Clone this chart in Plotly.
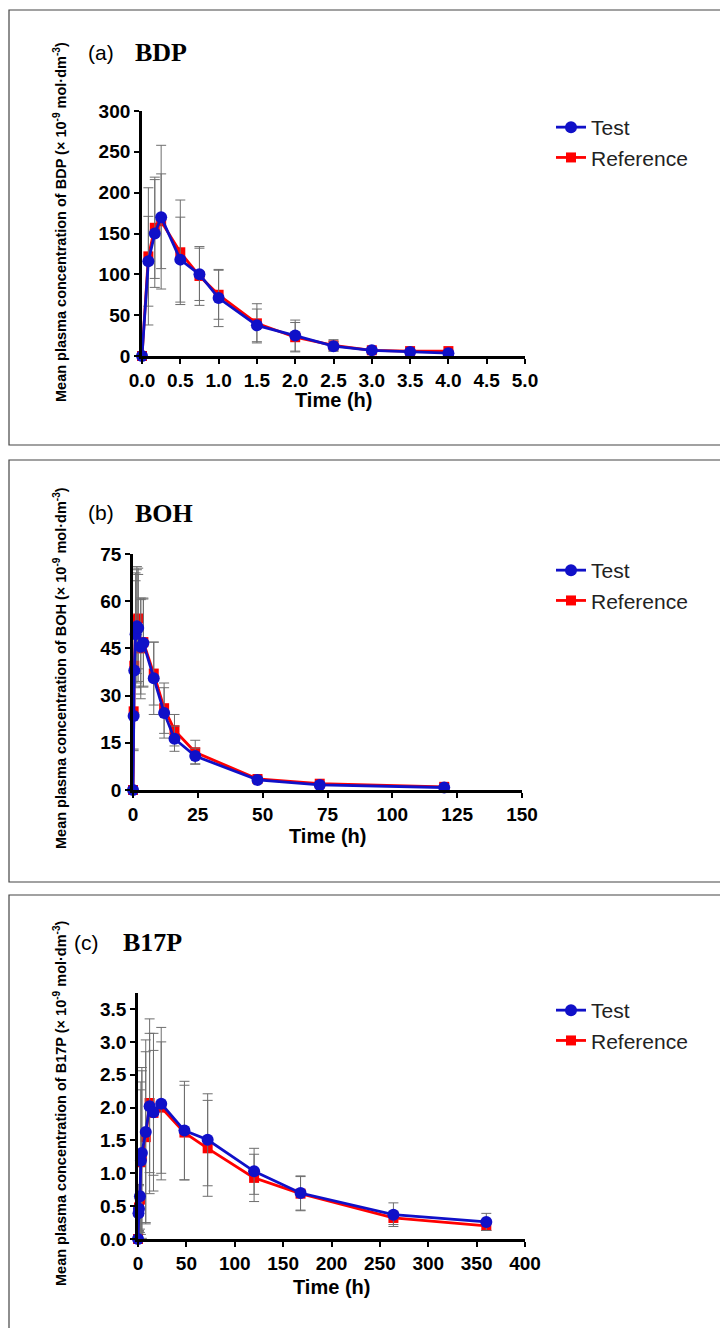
import plotly.graph_objects as go

W, H = 720, 1328

# ---------------- data ----------------
bdp_time = [0, 0.083, 0.167, 0.25, 0.5, 0.75, 1.0, 1.5, 2.0, 2.5, 3.0, 3.5, 4.0]
bdp_test = [0, 116, 150, 170, 118, 100, 71, 37.5, 25, 12, 7, 5, 3.5]
bdp_test_sd = [0, 55, 66, 88, 52, 32, 35, 20, 19, 6, 2, 1.5, 1]
bdp_ref = [0, 122, 157, 165, 127, 98, 75, 40, 23, 13, 7, 6, 6]
bdp_ref_sd = [0, 84, 62, 58, 64, 36, 30, 24, 18, 7, 2, 1.5, 1]

boh_time = [0, 0.25, 0.5, 1, 1.5, 2, 3, 4, 8, 12, 16, 24, 48, 72, 120]
boh_test = [0, 23.5, 38, 49.5, 52, 51.5, 45.5, 46.7, 35.5, 24.5, 16.3, 10.8, 3.2, 1.6, 0.8]
boh_test_sd = [0, 11, 14, 17, 18, 17, 15, 14, 11.5, 8, 4, 2.5, 0.8, 0.5, 0.3]
boh_ref = [0, 25, 39.5, 51, 54, 54.5, 45, 47, 37, 26, 19, 12, 3.5, 2.0, 1.0]
boh_ref_sd = [0, 12, 15, 18, 17, 16, 16, 14, 10, 8, 5, 3.8, 0.9, 0.6, 0.3]

b17p_time = [0, 0.5, 1, 2, 3, 4, 8, 12, 16, 24, 48, 72, 120, 168, 264, 360]
b17p_test = [0, 0.39, 0.46, 0.65, 1.19, 1.31, 1.63, 2.02, 1.93, 2.06, 1.65, 1.51, 1.03, 0.70, 0.37, 0.26]
b17p_test_sd = [0, 0.3, 0.35, 0.5, 1.2, 1.3, 1.4, 1.33, 1.2, 1.16, 0.75, 0.7, 0.35, 0.26, 0.18, 0.13]
b17p_ref = [0, 0.42, 0.48, 0.60, 1.17, 1.26, 1.55, 2.07, 1.92, 2.00, 1.62, 1.38, 0.93, 0.69, 0.32, 0.20]
b17p_ref_sd = [0, 0.3, 0.35, 0.5, 1.1, 1.3, 1.3, 1.06, 0.95, 1.0, 0.72, 0.73, 0.36, 0.26, 0.1, 0.07]

series_names = ["Test", "Reference"]
panel_tags = ["(a)", "(b)", "(c)"]
panel_names = ["BDP", "BOH", "B17P"]

BLUE = "#1010c8"
RED = "#ff0000"
ERR = "#6e6e6e"


def px_x(x):
    return x / W


def px_y(y):
    return 1 - y / H


fig = go.Figure()

panels = [
    dict(t=bdp_time, test=bdp_test, tsd=bdp_test_sd, ref=bdp_ref, rsd=bdp_ref_sd,
         xa="x", ya="y", leg="legend"),
    dict(t=boh_time, test=boh_test, tsd=boh_test_sd, ref=boh_ref, rsd=boh_ref_sd,
         xa="x2", ya="y2", leg="legend2"),
    dict(t=b17p_time, test=b17p_test, tsd=b17p_test_sd, ref=b17p_ref, rsd=b17p_ref_sd,
         xa="x3", ya="y3", leg="legend3"),
]

for p in panels:
    fig.add_trace(go.Scatter(
        x=p["t"], y=p["ref"], name=series_names[1], mode="lines+markers",
        line=dict(color=RED, width=2.8),
        marker=dict(symbol="square", size=10, color=RED),
        error_y=dict(type="data", array=p["rsd"], color=ERR, thickness=1, width=5),
        xaxis=p["xa"], yaxis=p["ya"], legend=p["leg"], legendrank=2, cliponaxis=False))
    fig.add_trace(go.Scatter(
        x=p["t"], y=p["test"], name=series_names[0], mode="lines+markers",
        line=dict(color=BLUE, width=2.8),
        marker=dict(symbol="circle", size=12, color=BLUE),
        error_y=dict(type="data", array=p["tsd"], color=ERR, thickness=1, width=5),
        xaxis=p["xa"], yaxis=p["ya"], legend=p["leg"], legendrank=1, cliponaxis=False))

tickfont = dict(family="Liberation Sans, Arial", size=19, color="black", weight="bold")
axis_common = dict(showgrid=False, zeroline=False, showline=True, linecolor="black",
                   linewidth=2.8, ticks="outside", ticklen=5, tickwidth=2.2,
                   tickcolor="black", tickfont=tickfont, automargin=False)

# geometry in pixels: (x0, x1, ybottom, ytop)
geo = [
    (142, 525, 356, 111),
    (133, 522, 790, 554),
    (138, 525, 1239, 992.6),
]

fig.update_layout(
    xaxis=dict(domain=[px_x(geo[0][0]), px_x(geo[0][1])], range=[0, 5], dtick=0.5,
               tickformat=".1f", anchor="y", **axis_common),
    yaxis=dict(domain=[px_y(geo[0][2]), px_y(geo[0][3])], range=[0, 300], dtick=50,
               anchor="x", **axis_common),
    xaxis2=dict(domain=[px_x(geo[1][0]), px_x(geo[1][1])], range=[0, 150], dtick=25,
                anchor="y2", **axis_common),
    yaxis2=dict(domain=[px_y(geo[1][2]), px_y(geo[1][3])], range=[0, 75], dtick=15,
                anchor="x2", **axis_common),
    xaxis3=dict(domain=[px_x(geo[2][0]), px_x(geo[2][1])], range=[0, 400], dtick=50,
                anchor="y3", **axis_common),
    yaxis3=dict(domain=[px_y(geo[2][2]), px_y(geo[2][3])], range=[0, 3.75],
                tickvals=[0, 0.5, 1, 1.5, 2, 2.5, 3, 3.5], tickformat=".1f",
                anchor="x3", **axis_common),
)

legfont = dict(family="Liberation Sans, Arial", size=21, color="#222")
leg_tops = [107, 550, 990]
for i, key in enumerate(["legend", "legend2", "legend3"]):
    fig.layout[key] = dict(x=px_x(551), y=px_y(leg_tops[i]), xanchor="left", yanchor="top",
                           font=legfont, bgcolor="rgba(0,0,0,0)", traceorder="normal")

annotations = []
shapes = []
label_y = [52, 512, 942]
tag_x = [86, 86, 72]
name_x = [133, 133, 121]
ytitle_cy = [222, 668, 1103]
xtitle_y = [400, 836, 1287]
frames = [(9, 10, 725, 445), (9, 460, 725, 882), (9, 895, 725, 1340)]
for i in range(3):
    annotations.append(dict(x=px_x(tag_x[i]), y=px_y(label_y[i]), xref="paper", yref="paper",
                            text=panel_tags[i], showarrow=False, xanchor="left", yanchor="middle",
                            font=dict(family="Liberation Sans, Arial", size=21, color="black")))
    annotations.append(dict(x=px_x(name_x[i]), y=px_y(label_y[i] + 1), xref="paper", yref="paper",
                            text=panel_names[i], showarrow=False, xanchor="left", yanchor="middle",
                            font=dict(family="Liberation Serif, Times New Roman", size=26,
                                      color="black", weight="bold")))
    annotations.append(dict(
        x=px_x(60), y=px_y(ytitle_cy[i]), xref="paper", yref="paper", textangle=-90,
        text="Mean plasma concentration of " + panel_names[i] +
             " (× 10<sup>-9</sup> mol·dm<sup>-3</sup>)",
        showarrow=False, xanchor="center", yanchor="middle",
        font=dict(family="Liberation Sans, Arial", size=14.5, color="black", weight="bold")))
    annotations.append(dict(x=px_x((geo[i][0] + geo[i][1]) / 2), y=px_y(xtitle_y[i]),
                            xref="paper", yref="paper", text="Time (h)", showarrow=False,
                            xanchor="center", yanchor="middle",
                            font=dict(family="Liberation Sans, Arial", size=20, color="black",
                                      weight="bold")))
    f = frames[i]
    shapes.append(dict(type="rect", xref="paper", yref="paper", x0=px_x(f[0]), x1=px_x(f[2]),
                       y0=px_y(f[3]), y1=px_y(f[1]), line=dict(color="#444", width=1.2),
                       fillcolor="rgba(0,0,0,0)", layer="below"))

fig.update_layout(width=W, height=H,
                  margin=dict(l=0, r=0, t=0, b=0, pad=0, autoexpand=False),
                  paper_bgcolor="white", plot_bgcolor="white",
                  annotations=annotations, shapes=shapes)

fig.write_html("out.html", config={"displayModeBar": False},
               post_script="document.body.style.margin='0';document.body.style.overflow='hidden';")
